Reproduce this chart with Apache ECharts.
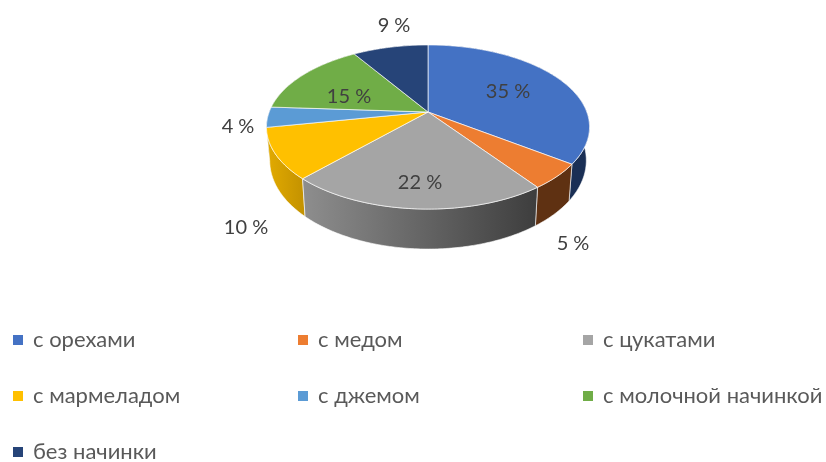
<!DOCTYPE html>
<html>
<head>
<meta charset="utf-8">
<style>
  html, body { margin: 0; padding: 0; background: #fff; }
  #chart { width: 826px; height: 462px; }
</style>
<script src="https://cdn.jsdelivr.net/npm/echarts@6/dist/echarts.min.js"></script>
</head>
<body>
<div id="chart"></div>
<script>
// данные диаграммы
const categories = ['с орехами', 'с медом', 'с цукатами', 'с мармеладом', 'с джемом', 'с молочной начинкой', 'без начинки']
const shares = [35, 5, 22, 10, 4, 15, 9]
const labels = ['35 %', '5 %', '22 %', '10 %', '4 %', '15 %', '9 %']

// цвета
const topColors = ['#4472c4', '#ed7d31', '#a5a5a5', '#ffc000', '#5b9bd5', '#70ad47', '#264478']
const wallColors = [['#1a2f55', '#1a2f55'], ['#5f3112', '#5f3112'], ['#8e8e8e', '#3d3d3d'], ['#e3ab00', '#c29100'], ['#3a6ea5', '#3a6ea5'], ['#43682b', '#43682b'], ['#162a4a', '#162a4a']]

// подписи: смещение от центра круга
const labelOffsets = [[80, -20], [145, 132], [-8, 71], [-182, 116], [-190, 15], [-79, -15], [-34, -86]]

// геометрия псевдо-3D круга
const center = [428, 112]
const radiusX = 158.8
const radiusY = 79.3
const perspective = 0.183
const depthMid = 32
const depthFront = 8
const bottomScale = 0.98

const total = shares.reduce((a, b) => a + b, 0)

function rimPoint(angle, scale, lowered) {
    let u = Math.sin(angle)
    let v = -Math.cos(angle)
    let w = 1 - perspective * v
    let shift = lowered ? depthMid + depthFront * v : 0
    return [center[0] + scale * radiusX * u / w, center[1] + radiusY * v / w + shift]
}

function renderSlice(params, api) {
    let i = params.seriesIndex
    let before = shares.slice(0, i).reduce((a, b) => a + b, 0)
    let start = before / total * Math.PI * 2
    let end = (before + api.value(0)) / total * Math.PI * 2
    let steps = Math.max(2, Math.ceil((end - start) / 0.015))

    let rimTop = []
    let rimBottom = []
    for (let s = 0; s <= steps; s++) {
        let a = start + (end - start) * s / steps
        rimTop.push(rimPoint(a, 1, false))
        rimBottom.push(rimPoint(a, bottomScale, true))
    }

    return {
        type: 'group',
        children: [
            {
                type: 'polygon',
                // передние стенки рисуем поверх задних
                z2: 5 - Math.cos((start + end) / 2),
                shape: { points: rimTop.concat(rimBottom.slice().reverse()) },
                style: {
                    fill: new echarts.graphic.LinearGradient(0, 0, 1, 0, [
                        { offset: 0, color: wallColors[i][0] },
                        { offset: 1, color: wallColors[i][1] }
                    ]),
                    stroke: 'rgba(255,255,255,0.6)',
                    lineWidth: 1
                }
            },
            {
                type: 'polygon',
                z2: 10,
                shape: { points: [center].concat(rimTop) },
                style: { fill: topColors[i], stroke: 'rgba(255,255,255,0.65)', lineWidth: 1 }
            },
            {
                type: 'text',
                z2: 20,
                style: {
                    text: labels[i],
                    x: center[0] + labelOffsets[i][0],
                    y: center[1] + labelOffsets[i][1],
                    align: 'center',
                    verticalAlign: 'middle',
                    fill: '#404040',
                    font: '20px Lato, "Noto Sans", sans-serif'
                }
            }
        ]
    }
}

function legendColumn(names, left, top) {
    return {
        data: names,
        orient: 'vertical',
        left: left,
        top: top,
        padding: 0,
        icon: 'rect',
        itemWidth: 10,
        itemHeight: 10,
        itemGap: 34,
        selectedMode: false,
        textStyle: { color: '#595959', fontSize: 22, fontFamily: 'Lato, "Noto Sans", sans-serif', padding: [0, 0, 0, 5] }
    }
}

var myChart = echarts.init(document.getElementById('chart'), null, { renderer: 'canvas' })

var option = {
    animation: false,
    backgroundColor: '#fff',
    legend: [
        legendColumn([categories[0], categories[3]], 13, 329),
        legendColumn([categories[6]], 13, 441),
        legendColumn([categories[1], categories[4]], 298, 329),
        legendColumn([categories[2], categories[5]], 583, 329)
    ],
    series: categories.map((name, i) => ({
        name: name,
        type: 'custom',
        coordinateSystem: 'none',
        itemStyle: { color: topColors[i] },
        renderItem: renderSlice,
        data: [[shares[i]]]
    }))
}

myChart.setOption(option)
</script>
</body>
</html>
